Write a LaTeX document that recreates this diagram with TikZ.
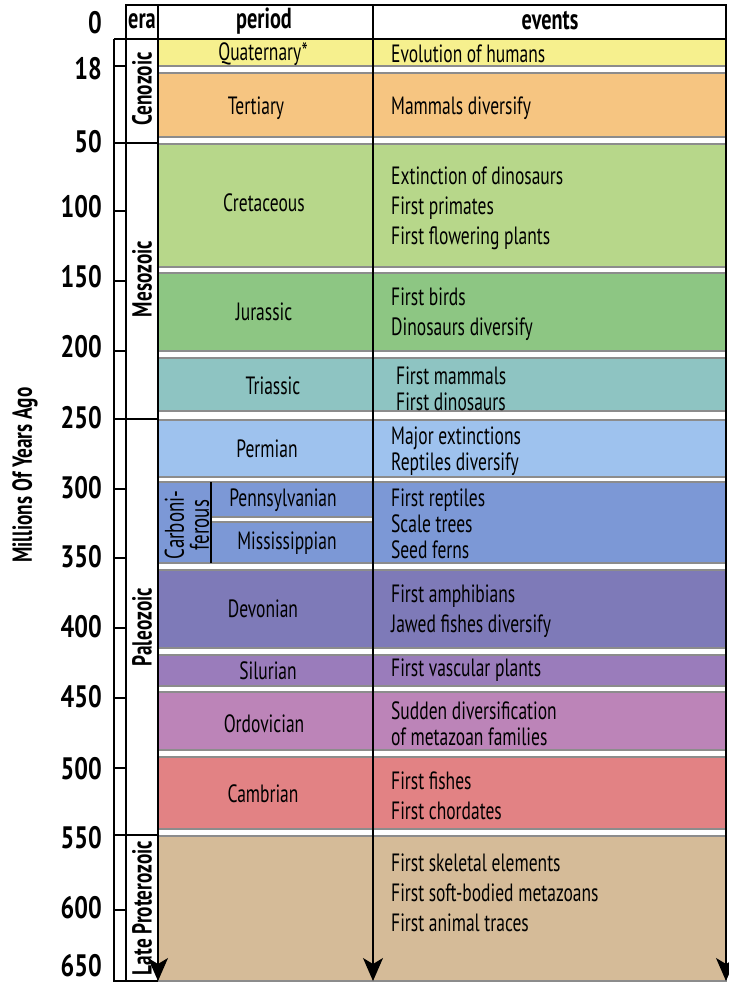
\documentclass[tikz,border=0pt]{standalone}
\usepackage{fontspec}
\setmainfont{PT Sans}[FakeStretch=0.7]
\newfontfamily\numfamily{PT Sans}[FakeStretch=0.78]
\usetikzlibrary{arrows.meta}

\newcommand{\numfont}{\numfamily\fontsize{31}{32}\selectfont\bfseries}
\newcommand{\headfont}{\fontsize{29}{30}\selectfont\bfseries}
\newcommand{\erafont}{\fontsize{27.5}{30}\selectfont\bfseries}
\newcommand{\perfont}{\fontsize{25}{26}\selectfont}
\newcommand{\carbfont}{\fontsize{27}{25}\selectfont}
\newcommand{\evfont}{\fontsize{25}{26}\selectfont}
\newcommand{\evwidefont}{\fontsize{25}{30}\selectfont}

\definecolor{quatcol}{RGB}{246,240,142}
\definecolor{tertcol}{RGB}{246,197,129}
\definecolor{cretcol}{RGB}{183,215,138}
\definecolor{juracol}{RGB}{141,198,131}
\definecolor{triacol}{RGB}{142,196,194}
\definecolor{permcol}{RGB}{158,194,238}
\definecolor{carbcol}{RGB}{124,152,214}
\definecolor{devocol}{RGB}{126,122,184}
\definecolor{silucol}{RGB}{154,124,187}
\definecolor{ordocol}{RGB}{188,132,184}
\definecolor{cambcol}{RGB}{226,130,132}
\definecolor{latecol}{RGB}{213,187,152}

\begin{document}
\begin{tikzpicture}[
    x=1pt, y=-1pt,
    band/.style={draw=black!45, line width=1.2pt},
    frame/.style={draw=black, line width=1.5pt},
    axis/.style={draw=black, line width=1.5pt, -{Stealth[length=23pt, width=20pt, inset=6pt]}},
    num/.style={anchor=east, inner sep=0pt, font=\numfont},
    head/.style={inner sep=0pt, font=\headfont},
    era/.style={rotate=90, inner sep=0pt, font=\erafont},
    period/.style={inner sep=0pt, font=\perfont},
    ev/.style={anchor=west, align=left, inner sep=0pt, font=\evfont},
    evwide/.style={ev, font=\evwidefont}
]
    \fill[white] (0,0) rectangle (728,987);
    \useasboundingbox (0,0) rectangle (728,987);

    % Period bands
    \draw[band, fill=quatcol] (158,39) rectangle (726,66);
    \draw[band, fill=tertcol] (158,73) rectangle (726,137);
    \draw[band, fill=cretcol] (158,144) rectangle (726,267);
    \draw[band, fill=juracol] (158,273) rectangle (726,351);
    \draw[band, fill=triacol] (158,358) rectangle (726,411);
    \draw[band, fill=permcol] (158,420) rectangle (726,477);
    \draw[band, fill=carbcol] (158,482) rectangle (726,563);
    \draw[band, fill=white] (211,517) rectangle (373,522);
    \draw[band, fill=devocol] (158,570) rectangle (726,648);
    \draw[band, fill=silucol] (158,655) rectangle (726,686);
    \draw[band, fill=ordocol] (158,692) rectangle (726,750);
    \draw[band, fill=cambcol] (158,757) rectangle (726,829);
    \draw[band, fill=latecol] (158,836) rectangle (726,981);

    % Frame and scale
    \draw[frame] (126,5) rectangle (726,39);
    \draw[frame] (126,39) -- (126,981);
    \draw[frame] (114,39) -- (126,39);
    \draw[frame] (114,39) -- (114,981) -- (158,981);
    \draw[line width=1.2pt] (211,482) -- (211,563);
    \foreach \y in {66,211,281,351,489,558,628,698,768,910}
        \draw[frame] (114,\y) -- (126,\y);
    \foreach \y in {143,419,835}
        \draw[frame] (114,\y) -- (158,\y);

    % Arrows
    \coordinate (eratop) at (158,5);
    \coordinate (erabot) at (158,981);
    \coordinate (pertop) at (373,5);
    \coordinate (perbot) at (373,981);
    \coordinate (evtop) at (726,39);
    \coordinate (evbot) at (726,981);
    \draw[axis] (eratop) -- (erabot);
    \draw[axis] (pertop) -- (perbot);
    \draw[axis] (evtop) -- (evbot);

    % Header
    \node[head] (hera) at (142,21) {era};
    \node[head] (hperiod) at (264,21) {period};
    \node[head] (hevents) at (550,21) {events};

    % Scale labels
    \node[era] (axtitle) at (25,475) {Millions Of Years Ago};
    \node[num] (m0) at (102,23) {0};
    \node[num] (m18) at (102,69) {18};
    \node[num] (m50) at (102,142) {50};
    \node[num] (m100) at (102,207) {100};
    \node[num] (m150) at (102,277) {150};
    \node[num] (m200) at (102,347) {200};
    \node[num] (m250) at (102,418) {250};
    \node[num] (m300) at (102,488) {300};
    \node[num] (m350) at (102,557) {350};
    \node[num] (m400) at (102,627) {400};
    \node[num] (m450) at (102,697) {450};
    \node[num] (m500) at (102,769) {500};
    \node[num] (m550) at (102,838) {550};
    \node[num] (m600) at (102,908) {600};
    \node[num] (m650) at (102,966) {650};

    % Eras
    \node[era] (ceno) at (142,89) {Cenozoic};
    \node[era] (meso) at (142,279) {Mesozoic};
    \node[era] (paleo) at (142,627) {Paleozoic};
    \node[era] (latep) at (142,908) {Late Proterozoic};

    % Periods
    \node[period] (quat) at (263,54) {Quaternary*};
    \node[period] (tert) at (256,108) {Tertiary};
    \node[period] (cret) at (264,203) {Cretaceous};
    \node[period] (jura) at (264,312) {Jurassic};
    \node[period] (tria) at (273,386) {Triassic};
    \node[period] (perm) at (267,449) {Permian};
    \node[period, rotate=90, align=center, font=\carbfont] (carb) at (187,525) {Carboni-\\ferous};
    \node[period] (penn) at (283,500) {Pennsylvanian};
    \node[period] (miss) at (287,543) {Mississippian};
    \node[period] (devo) at (263,609) {Devonian};
    \node[period] (silu) at (268,671) {Silurian};
    \node[period] (ordo) at (264,724) {Ordovician};
    \node[period] (camb) at (263,794) {Cambrian};

    % Events
    \node[ev] (evquat) at (391,54) {Evolution of humans};
    \node[ev] (evtert) at (391,108) {Mammals diversify};
    \node[evwide] (evcret) at (391,208) {Extinction of dinosaurs\\First primates\\First flowering plants};
    \node[evwide] (evjura) at (391,314) {First birds\\Dinosaurs diversify};
    \node[ev] (evtria) at (396,389) {First mammals\\First dinosaurs};
    \node[ev] (evperm) at (391,451) {Major extinctions\\Reptiles diversify};
    \node[ev] (evcarb) at (391,524) {First reptiles\\Scale trees\\Seed ferns};
    \node[evwide] (evdevo) at (391,611) {First amphibians\\Jawed fishes diversify};
    \node[ev] (evsilu) at (391,670) {First vascular plants};
    \node[ev] (evordo) at (391,724) {Sudden diversification\\of metazoan families};
    \node[evwide] (evcamb) at (391,796) {First fishes\\First chordates};
    \node[evwide] (evlate) at (391,893) {First skeletal elements\\First soft-bodied metazoans\\First animal traces};
\end{tikzpicture}
\end{document}
